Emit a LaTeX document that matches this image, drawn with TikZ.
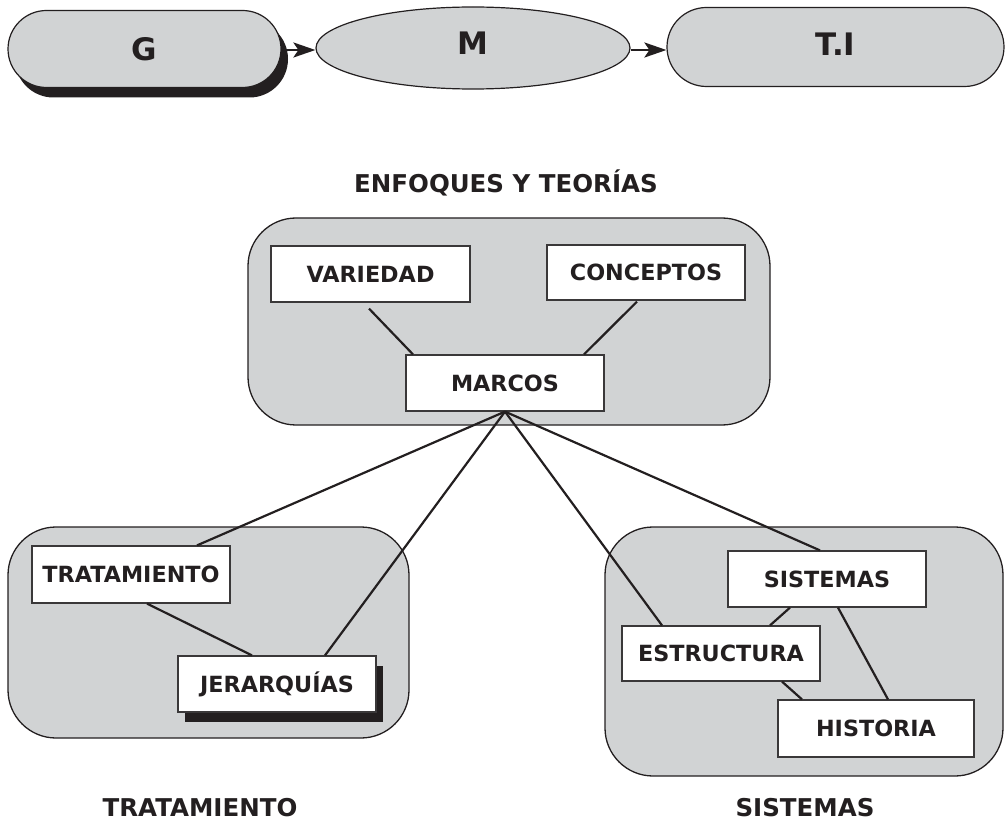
\documentclass[tikz,border=0pt]{standalone}
\usepackage{fontspec}
\setmainfont{DejaVu Sans}
\usetikzlibrary{shapes.geometric,shapes.misc,arrows.meta,shadows,calc}
\definecolor{ink}{HTML}{231F20}
\definecolor{pane}{HTML}{D1D3D4}
\definecolor{edge}{HTML}{3A3839}
\tikzset{
  bigtext/.style={text=ink, font=\bfseries\fontsize{31}{36}\selectfont, text height=22.6pt, text depth=0pt},
  pill/.style={rounded rectangle, draw=ink, line width=1.2pt, fill=pane, inner sep=0pt, bigtext},
  container/.style={draw=ink, line width=1.3pt, fill=pane, rounded corners=48pt, inner sep=0pt},
  wbox/.style={draw=edge, line width=1.2pt, fill=white, inner sep=0pt, text=ink,
    font=\bfseries\fontsize{22.3}{26}\selectfont, text height=16.3pt, text depth=0pt},
  title/.style={text=ink, font=\bfseries\fontsize{24.5}{29}\selectfont, inner sep=0pt,
    text height=17.9pt, text depth=0pt},
  link/.style={draw=ink, line width=2.2pt},
  flow/.style={draw=ink, line width=2.6pt, -{Stealth[length=22pt,width=15pt,inset=5pt]}},
  blackshadow/.style={drop shadow={shadow xshift=7pt,shadow yshift=-10pt,opacity=1,fill=ink}}
}
\begin{document}
\begin{tikzpicture}[x=1pt,y=-1pt]
\useasboundingbox (0,0) rectangle (1005,821);
% top row
\node[pill, blackshadow, minimum width=273pt, minimum height=77pt] (G) at (144.5,49) {G};
\node[ellipse, draw=ink, line width=1.2pt, fill=pane, inner sep=0pt,
  minimum width=314pt, minimum height=82pt] (M) at (473,48) {};
\node[bigtext, inner sep=0pt] (Mt) at (473,43) {M};
\node[pill, text depth=6pt, minimum width=337pt, minimum height=79pt] (TI) at (835.5,47) {T.I};
\draw[flow] ([yshift=-1pt]G.east) -- ([yshift=-1pt]G.east -| M.west);
\draw[flow] ([yshift=-2pt]M.east) -- ([yshift=-2pt]M.east -| TI.west);
% heading
\node[title] (head) at (506,184) {ENFOQUES Y TEORÍAS};
% containers
\node[container, minimum width=522pt, minimum height=207pt] (top) at (509,321.5) {};
\node[container, minimum width=401pt, minimum height=211pt] (left) at (208.5,632.5) {};
\node[container, minimum width=398pt, minimum height=249pt] (right) at (804,651.5) {};
% boxes
\node[wbox, minimum width=199pt, minimum height=56pt] (var) at (370.5,274) {VARIEDAD};
\node[wbox, minimum width=198pt, minimum height=55pt] (con) at (646,272.5) {CONCEPTOS};
\node[wbox, minimum width=198pt, minimum height=56pt] (mar) at (505,383) {MARCOS};
\node[wbox, minimum width=198pt, minimum height=57pt] (tra) at (131,574.5) {TRATAMIENTO};
\node[wbox, blackshadow, minimum width=198pt, minimum height=56pt] (jer) at (277,684) {JERARQUÍAS};
\node[wbox, minimum width=198pt, minimum height=56pt] (sis) at (827,579) {SISTEMAS};
\node[wbox, minimum width=198pt, minimum height=55pt] (est) at (721,653.5) {ESTRUCTURA};
\node[wbox, minimum width=196pt, minimum height=57pt] (his) at (876,728.5) {HISTORIA};
% links inside top container
\draw[link] ([shift={(-1.5,6)}]var.south) -- ([shift={(-92,0)}]mar.north);
\draw[link] ([shift={(-9,1)}]con.south) -- ([shift={(79,0)}]mar.north);
% links from MARCOS
\draw[link] (mar.south) -- ([shift={(66,0)}]tra.north);
\draw[link] (mar.south) -- ([shift={(48,0)}]jer.north);
\draw[link] (mar.south) -- ([shift={(-59,0)}]est.north);
\draw[link] (mar.south) -- ([shift={(-7,0)}]sis.north);
% links inside lower containers
\draw[link] ([shift={(16,0)}]tra.south) -- ([shift={(-25,0)}]jer.north);
\draw[link] ([shift={(-37,0)}]sis.south) -- ([shift={(49,0)}]est.north);
\draw[link] ([shift={(11,0)}]sis.south) -- ([shift={(12,0)}]his.north);
\draw[link] ([shift={(61,0)}]est.south) -- ([shift={(-74,0)}]his.north);
% bottom labels
\node[title] (ltra) at (200,808) {TRATAMIENTO};
\node[title] (lsis) at (805,808) {SISTEMAS};
\end{tikzpicture}
\end{document}
